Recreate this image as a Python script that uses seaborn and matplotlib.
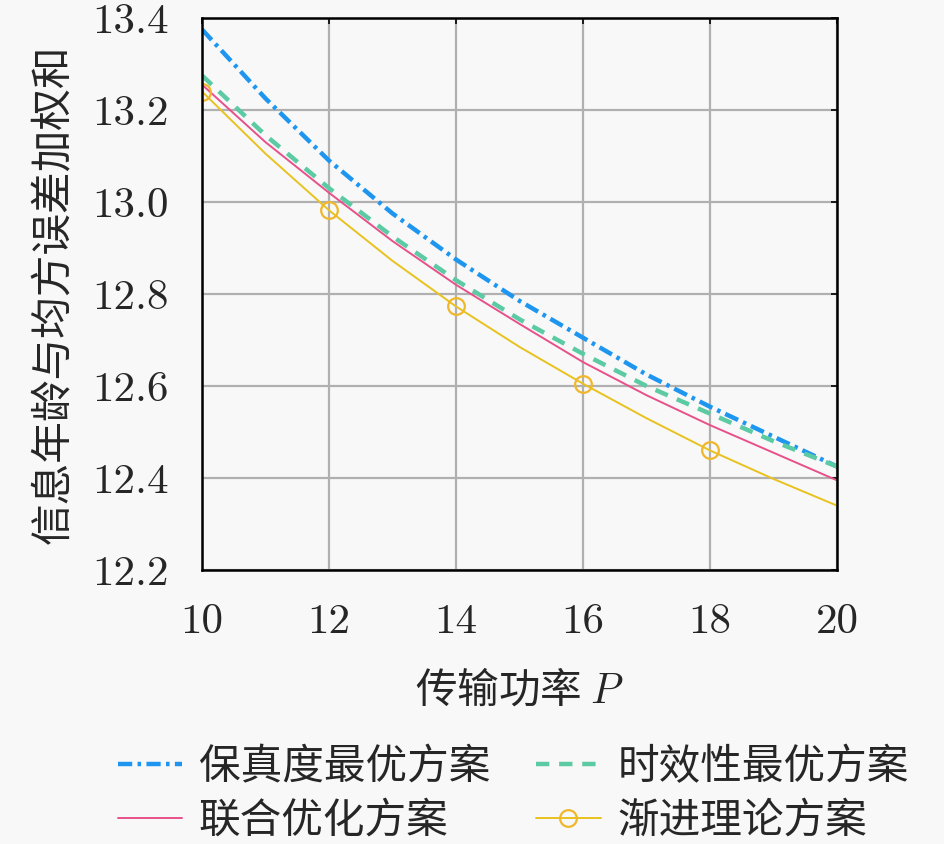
import matplotlib
matplotlib.use("Agg")
import matplotlib.pyplot as plt
import numpy as np
import pandas as pd
import seaborn as sns

# 数据
power = [10, 11, 12, 13, 14, 15, 16, 17, 18, 19, 20]
fidelity_opt = [13.375, 13.225, 13.09, 12.975, 12.875, 12.785, 12.705, 12.625, 12.555, 12.49, 12.425]
timeliness_opt = [13.275, 13.145, 13.03, 12.925, 12.83, 12.745, 12.67, 12.60, 12.54, 12.48, 12.425]
joint_opt = [13.255, 13.13, 13.02, 12.915, 12.82, 12.735, 12.652, 12.58, 12.515, 12.455, 12.395]
asymptotic = [13.24, 13.105, 12.982, 12.872, 12.773, 12.685, 12.605, 12.53, 12.46, 12.398, 12.34]

labels = ["保真度最优方案", "时效性最优方案", "联合优化方案", "渐进理论方案"]
x_ticks = [10, 12, 14, 16, 18, 20]
y_ticks = [12.2, 12.4, 12.6, 12.8, 13.0, 13.2, 13.4]

sns.set_theme(style="whitegrid")
plt.rcParams["font.family"] = ["cmr10", "Noto Sans CJK SC", "DejaVu Sans"]
plt.rcParams["mathtext.fontset"] = "cm"
plt.rcParams["axes.formatter.use_mathtext"] = True

bg = "#f8f8f8"
fig = plt.figure(figsize=(9.45, 8.44), dpi=100, facecolor=bg)
ax = fig.add_axes([0.2138, 0.3246, 0.6719, 0.6541], facecolor=bg)

df = pd.DataFrame({"P": power})

sns.lineplot(x=df["P"], y=fidelity_opt, ax=ax, color="#1e96f0", lw=3.2,
             linestyle=(0, (3.2, 1.2, 0.8, 1.2)), label=labels[0])
sns.lineplot(x=df["P"], y=timeliness_opt, ax=ax, color="#5ccaa2", lw=3.2,
             linestyle=(0, (3.0, 2.2)), label=labels[1])
sns.lineplot(x=df["P"], y=joint_opt, ax=ax, color="#e8508a", lw=1.4,
             label=labels[2])
# 标记只画在 10, 12, 14, 16, 18
sns.lineplot(x=df["P"], y=asymptotic, ax=ax, color="#e8c21e", lw=1.4,
             marker="o", markersize=12, markerfacecolor="none",
             markeredgecolor="#f0b72a", markeredgewidth=1.6,
             markevery=[0, 2, 4, 6, 8], label=labels[3])

ax.set_xlim(10, 20)
ax.set_ylim(12.2, 13.4)
ax.set_xticks(x_ticks)
ax.set_yticks(y_ticks)
ax.set_xticklabels([str(v) for v in x_ticks])
ax.set_yticklabels([f"{v:.1f}" for v in y_ticks])
ax.tick_params(axis="both", labelsize=31, direction="in", length=4,
               width=1.2, color="black", top=True, right=True)
ax.tick_params(axis="x", pad=24)
ax.tick_params(axis="y", pad=24)
ax.grid(True, color="#b0b0b0", linewidth=1.6)
for s in ax.spines.values():
    s.set_color("black")
    s.set_linewidth(1.8)

ax.set_xlabel("传输功率 $P$", fontsize=30, labelpad=20, family="Noto Sans CJK SC")
ax.set_ylabel("信息年龄与均方误差加权和", fontsize=30, labelpad=12,
              family="Noto Sans CJK SC")

handles, hl = ax.get_legend_handles_labels()
order = [0, 2, 1, 3]
ax.legend([handles[i] for i in order], [hl[i] for i in order],
          loc="center", bbox_to_anchor=(0.543, 0.059), bbox_transform=fig.transFigure,
          ncol=2, frameon=False, handlelength=1.55,
          columnspacing=1.1, handletextpad=0.4, labelspacing=0.3,
          prop={"family": "Noto Sans CJK SC", "size": 30})

fig.savefig("out.png", dpi=100, facecolor=bg)
